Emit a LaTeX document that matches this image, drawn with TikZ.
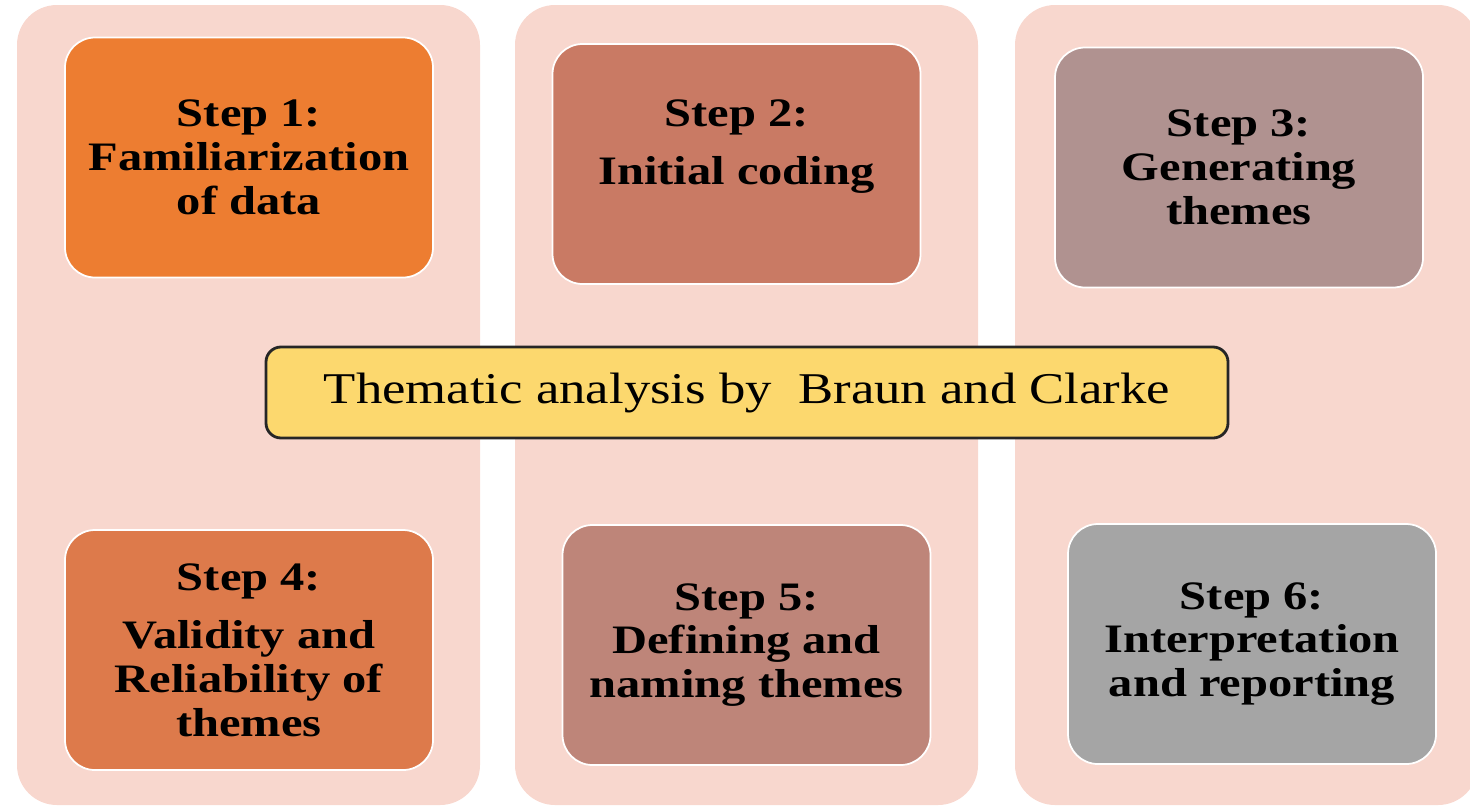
\documentclass[tikz,border=0pt]{standalone}
\usepackage{fontspec}
\setmainfont{Liberation Serif}[FakeStretch=1.2]
\usepackage{tikz}

\definecolor{colbg}{RGB}{248,215,206}
\definecolor{stepone}{RGB}{237,125,49}
\definecolor{steptwo}{RGB}{201,122,100}
\definecolor{stepthree}{RGB}{176,146,144}
\definecolor{stepfour}{RGB}{221,122,75}
\definecolor{stepfive}{RGB}{190,133,121}
\definecolor{stepsix}{RGB}{165,165,165}
\definecolor{titlefill}{RGB}{252,216,110}

\tikzset{
    stepbox/.style={draw=white, line width=0.5pt, rounded corners=0.3cm,
        minimum width=3.68cm, minimum height=2.4cm, align=center,
        font=\fontsize{11.5}{12.5}\selectfont\bfseries},
    titlebox/.style={draw=black!85, line width=0.8pt, fill=titlefill,
        rounded corners=0.15cm, minimum width=9.62cm, minimum height=0.91cm,
        font=\fontsize{12.5}{14}\selectfont}
}

\begin{document}
\begin{tikzpicture}
    \useasboundingbox (0,0) rectangle (14.7,8.1);

    % Draw the three background columns
    \foreach \x in {0.17, 5.15, 10.15} {
        \fill[colbg, rounded corners=0.4cm] (\x,0.05) rectangle ++(4.63,8.0);
    }

    % Draw the six steps
    \foreach \n/\x/\y/\c/\t in {
        1/2.49/6.525/stepone/{Step 1:\\Familiarization\\of data},
        2/7.365/6.46/steptwo/{Step 2:\\[4pt]Initial coding\\\mbox{}},
        3/12.39/6.425/stepthree/{Step 3:\\Generating\\themes},
        4/2.49/1.60/stepfour/{Step 4:\\[4pt]Validity and\\Reliability of\\themes},
        5/7.465/1.65/stepfive/{Step 5:\\Defining and\\naming themes},
        6/12.52/1.66/stepsix/{Step 6:\\Interpretation\\and reporting}} {
        \node[stepbox, fill=\c] (s\n) at (\x,\y) {\t};
    }

    % Draw the title in the middle
    \node[titlebox] (title) at (7.47,4.175) {Thematic analysis by \ Braun and Clarke};

\end{tikzpicture}
\end{document}
